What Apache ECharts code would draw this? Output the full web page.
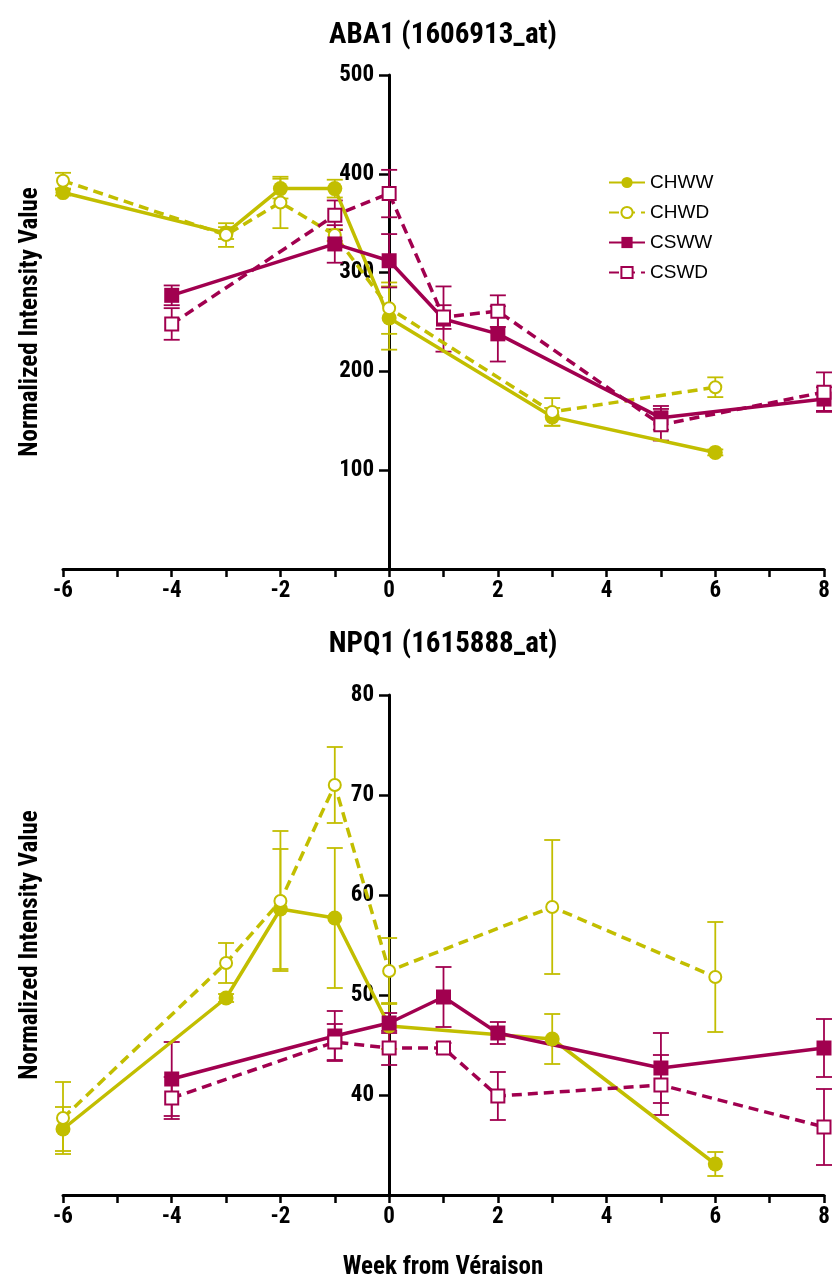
<!DOCTYPE html>
<html>
<head>
<meta charset="utf-8">
<script src="https://cdn.jsdelivr.net/npm/echarts@6/dist/echarts.min.js"></script>
<style>
html,body{margin:0;padding:0;background:#fff;}
#chart{width:832px;height:1287px;}
</style>
</head>
<body>
<div id="chart"></div>
<script>
// ---- data ----
const weeksCH = [-6, -3, -2, -1, 0, 3, 6];
const weeksCS = [-4, -1, 0, 1, 2, 5, 8];

const abaCHWW = [381, 340, 385, 385, 254, 154, 118];
const abaCHWWErr = [3, 6, 10, 9, 32, 9, 3];
const abaCHWD = [393, 338, 371, 338, 264, 159, 184];
const abaCHWDErr = [8, 12, 26, 6, 26, 14, 10];
const abaCSWW = [277, 329, 312, 253, 238, 153, 172];
const abaCSWWErr = [10, 19, 27, 33, 28, 12, 12];
const abaCSWD = [248, 358, 380, 255, 261, 146, 179];
const abaCSWDErr = [16, 15, 24, 12, 16, 16, 20];

const npqCHWW = [36.6, 49.7, 58.6, 57.7, 46.9, 45.6, 33.1];
const npqCHWWErr = [2.2, 0.4, 6, 7, 2.3, 2.5, 1.2];
const npqCHWD = [37.7, 53.2, 59.4, 71.0, 52.4, 58.8, 51.8];
const npqCHWDErr = [3.6, 2, 7, 3.8, 3.3, 6.7, 5.5];
const npqCSWW = [41.6, 45.9, 47.2, 49.8, 46.2, 42.7, 44.7];
const npqCSWWErr = [3.7, 2.5, 1, 3, 1.1, 3.5, 2.9];
const npqCSWD = [39.7, 45.3, 44.7, 44.7, 39.9, 41.0, 36.8];
const npqCSWDErr = [2.1, 1.8, 1.7, 0.5, 2.4, 3, 3.8];

const seriesNames = ['CHWW', 'CHWD', 'CSWW', 'CSWD'];
const titles = ['ABA1 (1606913_at)', 'NPQ1 (1615888_at)'];
const yTitle = 'Normalized Intensity Value';
const xTitle = 'Week from Véraison';

// ---- styles ----
const YEL = '#c2be00';
const MAG = '#a1004f';
const NARROW = "'Liberation Sans Narrow','Arial Narrow','Roboto Condensed','DejaVu Sans Condensed',sans-serif";

const chart = echarts.init(document.getElementById('chart'));

function pairs(xs, ys) { return xs.map((x, i) => [x, ys[i]]); }
function errs(xs, ys, es) { return xs.map((x, i) => [x, ys[i] - es[i], ys[i] + es[i]]); }

const specs = [
  { name: 'CHWW', color: YEL, symbol: 'circle', size: 15, dashed: false },
  { name: 'CHWD', color: YEL, symbol: 'emptyCircle', size: 12, dashed: true },
  { name: 'CSWW', color: MAG, symbol: 'rect', size: 15, dashed: false },
  { name: 'CSWD', color: MAG, symbol: 'emptyRect', size: 13, dashed: true }
];
const panels = [
  { x: [weeksCH, weeksCH, weeksCS, weeksCS],
    y: [abaCHWW, abaCHWD, abaCSWW, abaCSWD],
    e: [abaCHWWErr, abaCHWDErr, abaCSWWErr, abaCSWDErr] },
  { x: [weeksCH, weeksCH, weeksCS, weeksCS],
    y: [npqCHWW, npqCHWD, npqCSWW, npqCSWD],
    e: [npqCHWWErr, npqCHWDErr, npqCSWWErr, npqCSWDErr] }
];

function errRender(color) {
  return function (params, api) {
    const x = api.value(0), lo = api.value(1), hi = api.value(2);
    const a = api.coord([x, hi]), b = api.coord([x, lo]);
    const w = 8;
    const st = { stroke: color, lineWidth: 1.8 };
    return {
      type: 'group',
      children: [
        { type: 'line', shape: { x1: a[0], y1: a[1], x2: b[0], y2: b[1] }, style: st },
        { type: 'line', shape: { x1: a[0] - w, y1: a[1], x2: a[0] + w, y2: a[1] }, style: st },
        { type: 'line', shape: { x1: b[0] - w, y1: b[1], x2: b[0] + w, y2: b[1] }, style: st }
      ]
    };
  };
}

const series = [];
panels.forEach((p, pi) => {
  specs.forEach((s, si) => {
    series.push({
      type: 'line', name: s.name, xAxisIndex: pi, yAxisIndex: pi,
      data: pairs(p.x[si], p.y[si]),
      symbol: s.symbol, symbolSize: s.size, showAllSymbol: true, clip: false, z: 3,
      lineStyle: { color: s.color, width: 3.5, type: s.dashed ? [10, 6] : 'solid' },
      itemStyle: { color: s.color, borderColor: s.color, borderWidth: s.dashed ? 2 : 0 },
      emphasis: { disabled: true },
      animation: false
    });
  });
  specs.forEach((s, si) => {
    series.push({
      type: 'custom', name: s.name + ' error', xAxisIndex: pi, yAxisIndex: pi,
      renderItem: errRender(s.color), clip: false, z: 1,
      data: errs(p.x[si], p.y[si], p.e[si]), encode: { x: 0, y: [1, 2] },
      silent: true
    });
  });
});

const GL = 63, GR = 8, XMIN = -6, XMAX = 8;
const grids = [
  { left: GL, right: GR, top: 75, height: 494, outerBoundsMode: 'none', containLabel: false },
  { left: GL, right: GR, top: 695, height: 500, outerBoundsMode: 'none', containLabel: false }
];
const yRanges = [[0, 500, 100], [30, 80, 10]];
// shift the y axis to sit at week 0
const plotW = 832 - GL - GR;
const yShift = -Math.round((0 - XMIN) / (XMAX - XMIN) * plotW);

const option = {
  animation: false,
  backgroundColor: '#fff',
  grid: grids,
  legend: {
    orient: 'vertical', left: 603, top: 168,
    itemWidth: 36, itemHeight: 14, itemGap: 11,
    textStyle: { fontSize: 19, fontFamily: "'Liberation Sans',Arial,sans-serif", color: '#000' },
    data: seriesNames
  },
  xAxis: [0, 1].map(i => ({
    type: 'value', gridIndex: i, min: XMIN, max: XMAX, interval: 1,
    axisLine: { onZero: false, lineStyle: { color: '#000', width: 3 } },
    axisTick: { show: true, length: 8, lineStyle: { color: '#000', width: 2.5 } },
    axisLabel: {
      color: '#000', fontFamily: NARROW, fontWeight: 'bold', fontSize: 23, margin: 11,
      formatter: v => (v % 2 === 0 ? String(v) : '')
    },
    splitLine: { show: false }
  })),
  yAxis: [0, 1].map(i => ({
    type: 'value', gridIndex: i, min: yRanges[i][0], max: yRanges[i][1], interval: yRanges[i][2],
    position: 'left', offset: yShift,
    axisLine: { show: true, onZero: false, lineStyle: { color: '#000', width: 3 } },
    axisTick: { show: true, length: 10, lineStyle: { color: '#000', width: 2.5 } },
    axisLabel: {
      color: '#000', fontFamily: NARROW, fontWeight: 'bold', fontSize: 23, margin: 15,
      formatter: v => (v === yRanges[i][0] ? '' : String(v))
    },
    splitLine: { show: false },
    name: yTitle, nameLocation: 'middle', nameGap: 346, nameRotate: 90,
    nameTextStyle: { color: '#000', fontFamily: NARROW, fontWeight: 'bold', fontSize: 25 }
  })),
  graphic: [
    { type: 'text', x: 443, y: 36, style: { text: titles[0], fill: '#000', align: 'center', verticalAlign: 'middle', font: "bold 29px " + NARROW } },
    { type: 'text', x: 443, y: 645, style: { text: titles[1], fill: '#000', align: 'center', verticalAlign: 'middle', font: "bold 29px " + NARROW } },
    { type: 'text', x: 443, y: 1268, style: { text: xTitle, fill: '#000', align: 'center', verticalAlign: 'middle', font: "bold 25px " + NARROW } }
  ],
  series: series
};
chart.setOption(option);
</script>
</body>
</html>
